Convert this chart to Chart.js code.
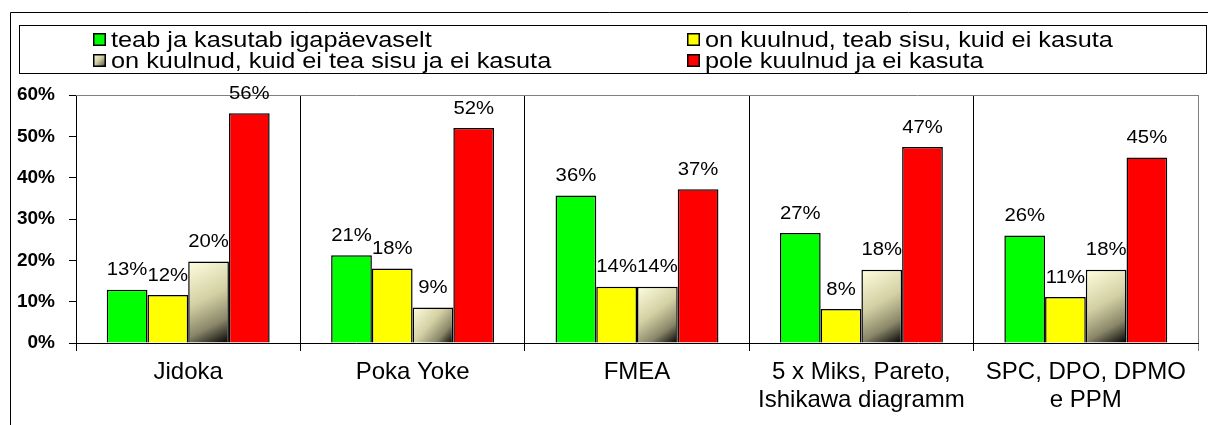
<!DOCTYPE html>
<html>
<head>
<meta charset="utf-8">
<script src="https://cdn.jsdelivr.net/npm/chart.js@4"></script>
<style>
  body { margin: 0; background: #fff; }
  #wrap { width: 1208px; height: 425px; }
</style>
</head>
<body>
<div id="wrap"><canvas id="usageChart"></canvas></div>
<script>
// categories and series (percent)
const categories = ['Jidoka', 'Poka Yoke', 'FMEA', ['5 x Miks, Pareto,', 'Ishikawa diagramm'], ['SPC, DPO, DPMO', 'e PPM']];
const seriesNames = [
    'teab ja kasutab igapäevaselt',
    'on kuulnud, teab sisu, kuid ei kasuta',
    'on kuulnud, kuid ei tea sisu ja ei kasuta',
    'pole kuulnud ja ei kasuta'
];
const usesDaily = [12.9, 21.2, 35.7, 26.6, 26.0];
const knowsNotUsing = [11.6, 18.0, 13.6, 8.2, 11.1];
const heardOnly = [19.7, 8.6, 13.6, 17.7, 17.7];
const neverHeard = [55.6, 52.0, 37.2, 47.4, 44.9];
const yTicks = [0, 10, 20, 30, 40, 50, 60];

const FONT = '"Liberation Sans", Arial, sans-serif';

function fadeGradient(ctx, x0, y0, x1, y1) {
    const g = ctx.createLinearGradient(x0, y0, x1, y1);
    g.addColorStop(0, '#FFFFE0');
    g.addColorStop(0.45, '#D4D0A4');
    g.addColorStop(0.75, '#8A876A');
    g.addColorStop(1, '#000000');
    return g;
}

// Excel style text is a bit stretched sideways
function wideText(ctx, text, x, y, sx) {
    ctx.save();
    ctx.translate(x, y);
    ctx.scale(sx, 1);
    ctx.fillText(text, 0, 0);
    ctx.restore();
}

const framePlugin = {
    id: 'frame',
    beforeDraw(chart) {
        const ctx = chart.ctx;
        ctx.save();
        ctx.fillStyle = '#fff';
        ctx.fillRect(0, 0, chart.width, chart.height);
        ctx.strokeStyle = '#000';
        ctx.lineWidth = 1;
        ctx.beginPath();
        ctx.moveTo(10.5, chart.height);
        ctx.lineTo(10.5, 12.5);
        ctx.lineTo(chart.width, 12.5);
        ctx.stroke();
        ctx.restore();
    },
    beforeDatasetsDraw(chart) {
        // diagonal fade on the third series
        const meta = chart.getDatasetMeta(2);
        meta.data.forEach(bar => {
            const p = bar.getProps(['x', 'y', 'base', 'width'], true);
            const g = fadeGradient(chart.ctx, p.x - p.width / 2, p.y, p.x + p.width / 2, p.base);
            bar.options = Object.assign({}, bar.options, { backgroundColor: g });
        });
    },
    afterDraw(chart) {
        const ctx = chart.ctx;
        const area = chart.chartArea;
        ctx.save();

        // plot area top border
        ctx.strokeStyle = '#808080';
        ctx.lineWidth = 1;
        ctx.beginPath();
        ctx.moveTo(area.left, Math.round(area.top) + 0.5);
        ctx.lineTo(area.right, Math.round(area.top) + 0.5);
        ctx.stroke();

        // value labels
        ctx.fillStyle = '#000';
        ctx.font = '17.5px ' + FONT;
        ctx.textAlign = 'center';
        ctx.textBaseline = 'alphabetic';
        chart.data.datasets.forEach((ds, i) => {
            chart.getDatasetMeta(i).data.forEach((bar, j) => {
                wideText(ctx, Math.round(ds.data[j]) + '%', bar.x, bar.y - 14.5, 1.16);
            });
        });

        // legend box
        ctx.strokeStyle = '#000';
        ctx.strokeRect(19.5, 25.5, 1187, 48);
        const cols = [93, 687];
        const rows = [33, 54];
        ctx.font = '22px ' + FONT;
        ctx.textAlign = 'left';
        chart.data.datasets.forEach((ds, i) => {
            const x = cols[i % 2];
            const y = rows[Math.floor(i / 2)];
            ctx.fillStyle = i === 2 ? fadeGradient(ctx, x, y, x + 13, y + 13) : ds.backgroundColor;
            ctx.fillRect(x, y, 13, 13);
            ctx.lineWidth = 1.5;
            ctx.strokeStyle = '#000';
            ctx.strokeRect(x + 0.75, y + 0.75, 11.5, 11.5);
            ctx.fillStyle = '#000';
            wideText(ctx, ds.label, x + 18, y + 14, 1.15);
        });
        ctx.restore();
    }
};

const ctx = document.getElementById('usageChart').getContext('2d');
const seriesData = [usesDaily, knowsNotUsing, heardOnly, neverHeard];
const seriesColors = ['#00FF00', '#FFFF00', '#D4D0A4', '#FF0000'];

new Chart(ctx, {
    type: 'bar',
    data: {
        labels: categories,
        datasets: seriesData.map((d, i) => ({
            label: seriesNames[i],
            data: d,
            backgroundColor: seriesColors[i],
            borderColor: '#000',
            borderWidth: 1.5,
            barPercentage: 1,
            categoryPercentage: 0.726
        }))
    },
    options: {
        responsive: true,
        maintainAspectRatio: false,
        animation: false,
        layout: { padding: { top: 95, right: 10, left: 0, bottom: 0 } },
        plugins: {
            legend: { display: false },
            tooltip: { enabled: false }
        },
        scales: {
            x: {
                offset: true,
                afterFit(scale) { scale.height = 82; },
                grid: {
                    offset: true,
                    drawOnChartArea: true,
                    tickLength: 8,
                    color: c => (c.tick ? '#000' : '#808080')
                },
                border: { color: '#000', width: 1 },
                ticks: {
                    color: '#000',
                    padding: 7,
                    font: { family: FONT, size: 24, lineHeight: 28 / 24 }
                }
            },
            y: {
                min: 0,
                max: 60,
                afterFit(scale) { scale.width = 76; },
                afterBuildTicks(scale) { scale.ticks = yTicks.map(v => ({ value: v })); },
                grid: {
                    drawOnChartArea: false,
                    drawTicks: true,
                    tickLength: 7,
                    color: '#000'
                },
                border: { color: '#000', width: 1 },
                ticks: {
                    color: '#000',
                    padding: 14,
                    font: { family: FONT, size: 19, weight: 'bold' },
                    callback: v => v + '%'
                }
            }
        }
    },
    plugins: [framePlugin]
});
</script>
</body>
</html>
